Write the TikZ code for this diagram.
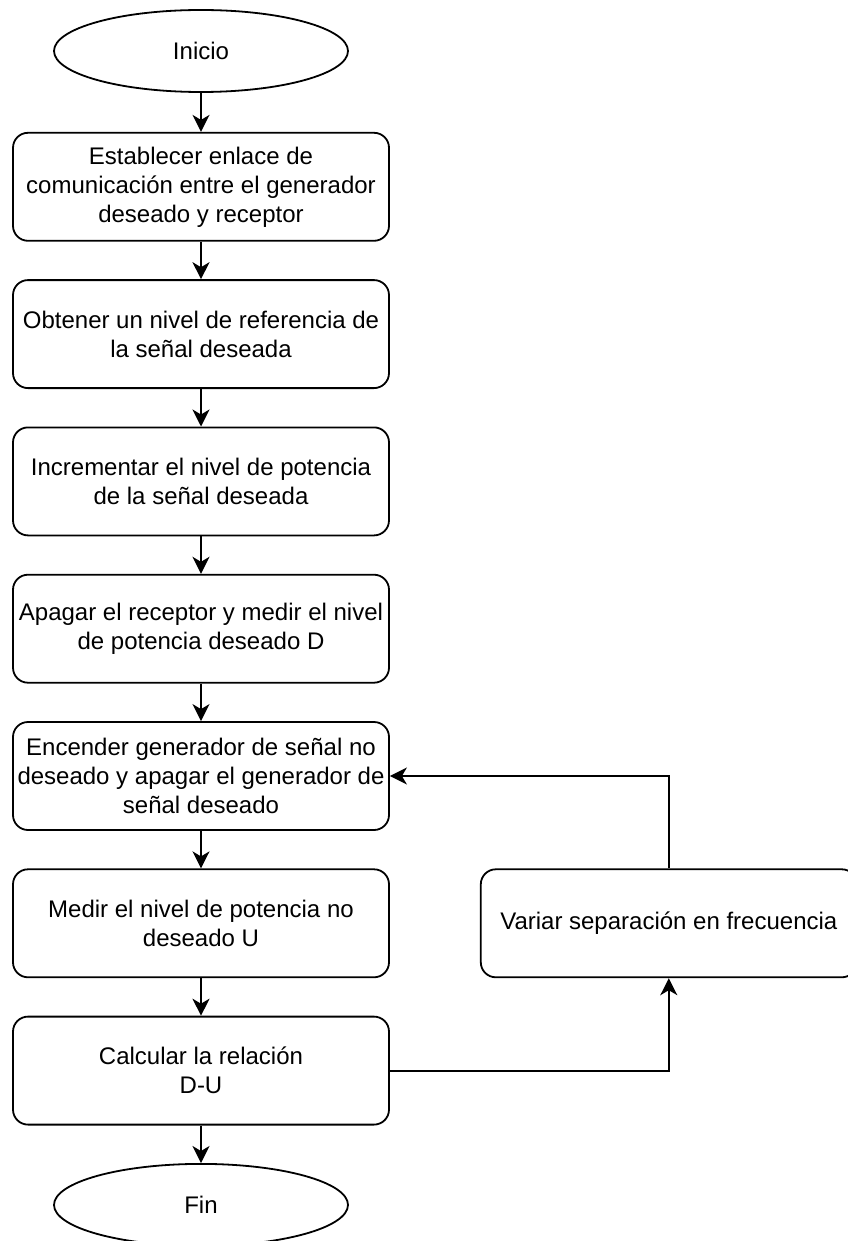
\documentclass[tikz,border=0pt]{standalone}
\usepackage{fontspec}
\setmainfont{Liberation Sans}
\definecolor{flowblack}{RGB}{0, 0, 0}
\usepackage{tikz}
\usetikzlibrary{shapes.geometric, arrows.meta, positioning}
\tikzset{
    procbox/.style={draw=flowblack, rectangle, rounded corners=15pt, line width=1.8pt, minimum width=376pt, minimum height=108pt, inner sep=0pt, align=center, font=\fontsize{24}{29}\selectfont},
    termnode/.style={draw=flowblack, ellipse, line width=1.8pt, minimum width=294pt, minimum height=82pt, inner sep=0pt, font=\fontsize{24}{29}\selectfont},
    flowarrow/.style={-{Stealth[length=17pt, width=17pt, inset=5pt]}, line width=1.8pt, draw=flowblack},
}
\begin{document}
\begin{tikzpicture}[node distance=37.5pt]
                \useasboundingbox (0,0) rectangle (847pt,-1241pt);
                % Main sequence
                \node[termnode] (inicio) at (201pt,-51pt) {Inicio};
                \node[procbox, below=39pt of inicio] (enlace)
                      {Establecer enlace de\\comunicación entre el generador\\deseado y receptor};
                \node[procbox, below=of enlace] (referencia)
                      {Obtener un nivel de referencia de\\la señal deseada};
                \node[procbox, below=of referencia] (incrementar)
                      {Incrementar el nivel de potencia\\de la señal deseada};
                \node[procbox, below=of incrementar] (apagar)
                      {Apagar el receptor y medir el nivel\\de potencia deseado D};
                \node[procbox, below=of apagar] (encender)
                      {Encender generador de señal no\\deseado y apagar el generador de\\señal deseado};
                \node[procbox, below=of encender] (medir)
                      {Medir el nivel de potencia no\\deseado U};
                \node[procbox, below=of medir] (calcular)
                      {Calcular la relación\\D-U};
                \node[termnode, below=of calcular] (fin) {Fin};
                % Loop box
                \node[procbox, right=90pt of medir] (variar)
                      {Variar separación en frecuencia};
                
                \draw[flowarrow] (inicio) -- (enlace);
                \draw[flowarrow] (enlace) -- (referencia);
                \draw[flowarrow] (referencia) -- (incrementar);
                \draw[flowarrow] (incrementar) -- (apagar);
                \draw[flowarrow] (apagar) -- (encender);
                \draw[flowarrow] (encender) -- (medir);
                \draw[flowarrow] (medir) -- (calcular);
                \draw[flowarrow] (calcular) -- (fin);
                \draw[flowarrow] (calcular.east) -| (variar.south);
                \draw[flowarrow] (variar.north) |- (encender.east);
            \end{tikzpicture}
\end{document}
